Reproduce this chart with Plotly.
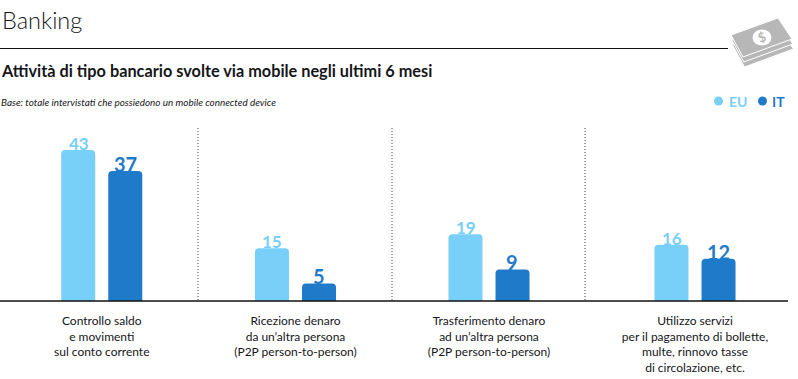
import plotly.graph_objects as go

categories = [
    "Controllo saldo<br>e movimenti<br>sul conto corrente",
    "Ricezione denaro<br>da un’altra persona<br>(P2P person-to-person)",
    "Trasferimento denaro<br>ad un’altra persona<br>(P2P person-to-person)",
    "Utilizzo servizi<br>per il pagamento di bollette,<br>multe, rinnovo tasse<br>di circolazione, etc.",
]
eu_values = [43, 15, 19, 16]
it_values = [37, 5, 9, 12]
EU_COLOR = "#78cff8"
IT_COLOR = "#1f7bc9"
TEXT = "#16161a"
W, H = 798, 379
FONT = "Lato"


def px(x):
    return x / W


def py(y):
    return 1 - y / H


centres = [101.75, 295.5, 489, 695]
half = 97
fig = go.Figure()
layout_axes = {}
value_labels = []
for i, c in enumerate(centres):
    sfx = "" if i == 0 else str(i + 1)
    for name, vals, col in (("EU", eu_values, EU_COLOR), ("IT", it_values, IT_COLOR)):
        fig.add_trace(go.Bar(
            x=[categories[i]], y=[vals[i]], name=name, showlegend=False,
            marker=dict(color=col, line=dict(width=0)),
            xaxis="x" + sfx, yaxis="y",
        ))
        is_it = name == "IT"
        value_labels.append(dict(
            xref="x" + sfx, yref="y", x=categories[i], y=vals[i], text=f"<b>{vals[i]}</b>" if is_it else f"{vals[i]}",
            showarrow=False, xanchor="center", yanchor="bottom",
            xshift=23.25 if is_it else -23.25, yshift=-7 if is_it else -6,
            font=dict(family=FONT, size=20 if is_it else 17, color=col, weight=700 if not is_it else None),
        ))
    layout_axes["xaxis" + sfx] = dict(
        domain=[px(c - half), px(c + half)], anchor="y", type="category",
        showgrid=False, zeroline=False, showline=False, ticks="",
        tickangle=0, tickfont=dict(family=FONT, size=12, color=TEXT), ticklabelstandoff=11,
    )

shapes = [
    dict(type="line", xref="paper", yref="paper", x0=0, x1=px(728), y0=py(48.5), y1=py(48.5),
         line=dict(color="#111", width=1.2)),
    dict(type="line", xref="paper", yref="paper", x0=0, x1=px(788), y0=py(301), y1=py(301),
         line=dict(color="#111", width=1.4)),
]
for x in (198, 392, 585):
    shapes.append(dict(type="line", xref="paper", yref="paper", x0=px(x), x1=px(x), y0=py(128), y1=py(300),
                       line=dict(color="#444", width=1, dash="1px,2px")))

# banknote-stack icon
bill = [(731, 35), (778, 18), (792, 39), (743, 57)]
for dx, dy in ((1.5, 10), (0.8, 5), (0, 0)):
    path = "M " + " L ".join(f"{px(x+dx)} {py(y+dy)}" for x, y in bill) + " Z"
    shapes.append(dict(type="path", xref="paper", yref="paper", path=path,
                       fillcolor="#b7b7b7", line=dict(color="white", width=1)))
shapes.append(dict(type="circle", xref="paper", yref="paper", x0=px(752.5), x1=px(771.5), y0=py(45.5), y1=py(29.5),
                   fillcolor="white", line=dict(width=0)))
# legend dots
for x0, col in ((714, EU_COLOR), (758, IT_COLOR)):
    shapes.append(dict(type="circle", xref="paper", yref="paper", x0=px(x0), x1=px(x0 + 9), y0=py(105.5), y1=py(96.5),
                       fillcolor=col, line=dict(width=0)))


def note(x, y, text, size, color=TEXT, family=FONT, xanchor="left", **kw):
    return dict(xref="paper", yref="paper", x=px(x), y=py(y), text=text, showarrow=False, xanchor=xanchor,
                yanchor="middle", font=dict(family=family, size=size, color=color), **kw)


annotations = value_labels + [
    note(0, 20, "Banking", 23.5, family="Lato Light"),
    note(-1, 71, "<b>Attività di tipo bancario svolte via mobile negli ultimi 6 mesi</b>", 16.3),
    note(-1, 102, "<i>Base: totale intervistati che possiedono un mobile connected device</i>", 9.9),
    note(727, 101, "<b>EU</b>", 14, color=EU_COLOR),
    note(770, 101, "<b>IT</b>", 14, color=IT_COLOR),
    note(762, 37, "<b>$</b>", 13, color="#b7b7b7", xanchor="center", textangle=-20),
]

fig.update_layout(
    width=W, height=H, margin=dict(l=0, r=0, t=0, b=0),
    paper_bgcolor="white", plot_bgcolor="white", barmode="group",
    bargap=0.515, bargroupgap=0.277, barcornerradius=4,
    yaxis=dict(domain=[py(301), py(130)], range=[0, 48.7], visible=False, fixedrange=True),
    shapes=shapes, annotations=annotations, showlegend=False,
    **layout_axes,
)
fig.write_html("out.html", post_script="document.body.style.margin='0';", config=dict(displayModeBar=False))
